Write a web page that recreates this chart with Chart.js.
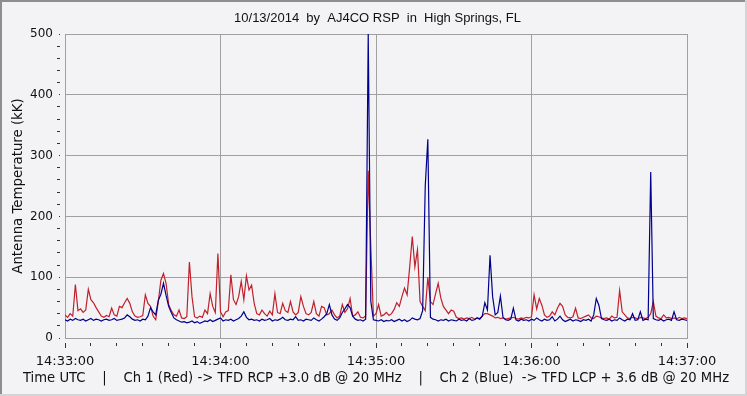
<!DOCTYPE html>
<html>
<head>
<meta charset="utf-8">
<script src="https://cdn.jsdelivr.net/npm/chart.js@4"></script>
<style>
html,body{margin:0;padding:0;background:#f3f3f5;}
#wrap{width:747px;height:396px;}
</style>
</head>
<body>
<div id="wrap"><canvas id="c" width="747" height="396"></canvas></div>
<script>
// Seconds after 14:33:00 UTC (one sample per second)
const seconds = Array.from({length: 241}, (_, i) => i);

const timeTickLabels = ['14:33:00', '14:34:00', '14:35:00', '14:36:00', '14:37:00'];
const tempTickLabels = ['0', '100', '200', '300', '400', '500'];
const xAxisCaption = 'Time UTC    |    Ch 1 (Red) -> TFD RCP +3.0 dB @ 20 MHz    |    Ch 2 (Blue)  -> TFD LCP + 3.6 dB @ 20 MHz';

// Ch 1 (Red) RCP, antenna temperature in kK
const ch1Red = [
38,34,40,36,88,45,48,42,46,80, 63,58,50,43,36,34,37,35,49,38,
36,52,50,58,65,57,43,36,34,35, 37,71,57,52,36,30,60,95,106,90,
55,45,38,36,46,33,32,35,125,68, 35,33,36,34,46,40,73,52,42,139,
43,35,43,45,104,63,55,68,93,63, 102,79,87,57,40,38,46,40,36,44,
38,73,42,40,57,45,42,60,43,38, 42,68,52,40,38,42,60,40,36,52,
50,38,40,46,38,33,36,55,42,48, 65,36,38,43,34,33,36,275,150,36,
40,55,36,38,42,37,40,47,58,52, 68,82,71,117,167,117,145,60,52,45,
100,60,55,73,90,66,52,46,40,46, 44,34,32,33,31,33,32,34,31,33,
32,36,40,40,38,36,33,34,32,33, 31,32,33,34,32,31,33,32,34,33,
35,71,48,65,54,38,34,36,43,38, 49,57,52,38,34,33,35,49,33,32,
34,36,38,33,32,36,35,33,32,33, 31,36,33,34,78,43,38,33,32,34,
33,31,34,33,32,34,40,60,36,33, 32,38,33,34,32,33,31,34,32,33,
32
];

// Ch 2 (Blue) LCP, antenna temperature in kK
const ch2Blue = [
30,28,31,29,32,30,29,31,28,30, 32,29,31,30,28,30,31,29,30,32,
29,30,31,33,38,35,31,29,30,28, 31,30,36,50,43,38,62,72,90,70,
52,42,33,30,28,26,27,25,26,28, 25,27,24,26,28,27,30,27,29,31,
33,28,30,29,31,28,30,32,36,43, 34,30,31,29,30,28,31,29,30,32,
28,30,29,31,34,30,29,31,30,35, 29,30,28,31,30,29,33,30,28,31,
35,40,55,38,31,29,33,42,48,55, 50,36,31,29,30,28,31,500,60,30,
29,28,30,27,29,28,30,27,29,31, 28,30,27,29,33,31,30,32,45,250,
327,34,31,30,28,30,29,31,28,30, 29,28,31,29,30,28,32,29,30,33,
31,36,58,46,136,68,38,42,69,34, 30,29,31,49,30,28,31,29,30,28,
31,29,33,30,28,31,29,30,35,28, 31,36,30,27,29,31,28,30,29,27,
30,29,31,28,38,65,54,32,30,29, 31,28,30,29,33,30,28,31,30,40,
29,30,43,29,31,30,273,32,30,29, 31,28,30,31,29,43,30,29,31,30,
29
];

const GRID = '#a0a0a0';
const TICK = '#333333';

const framePlugin = {
  id: 'frame',
  beforeDraw(chart) {
    const c = chart.ctx;
    c.save();
    c.fillStyle = '#f3f3f5';
    c.fillRect(0, 0, chart.width, chart.height);
    c.fillStyle = '#8e8e8e';
    c.fillRect(0, 0, chart.width, 2);
    c.fillRect(0, 0, 2, chart.height);
    c.fillStyle = '#d4d4d6';
    c.fillRect(chart.width - 2, 0, 2, chart.height);
    c.fillRect(0, chart.height - 2, chart.width, 2);
    c.restore();
  },
  afterDraw(chart) {
    const c = chart.ctx;
    const area = chart.chartArea;
    c.save();
    c.fillStyle = '#111';
    c.font = '13.2px "DejaVu Sans"';
    c.textAlign = 'center';
    c.textBaseline = 'middle';
    c.fillText(xAxisCaption, (area.left + area.right) / 2, chart.scales.x.bottom - 17);
    c.restore();
  }
};

new Chart(document.getElementById('c'), {
  type: 'line',
  data: {
    datasets: [
      {
        label: 'Ch 2 (Blue)',
        data: seconds.map((s, i) => ({x: s, y: ch2Blue[i]})),
        borderColor: '#00008c',
        borderWidth: 1.2,
        pointRadius: 0,
        tension: 0
      },
      {
        label: 'Ch 1 (Red)',
        data: seconds.map((s, i) => ({x: s, y: ch1Red[i]})),
        borderColor: '#c0202c',
        borderWidth: 1.2,
        pointRadius: 0,
        tension: 0
      }
    ]
  },
  options: {
    responsive: false,
    animation: false,
    devicePixelRatio: 1,
    layout: {padding: {left: 8, right: 0, top: 0, bottom: 0}},
    plugins: {
      legend: {display: false},
      tooltip: {enabled: false},
      title: {
        display: true,
        text: '10/13/2014  by  AJ4CO RSP  in  High Springs, FL',
        color: '#111',
        font: {family: 'Liberation Sans', size: 13, weight: 'normal'},
        padding: {top: 10.2, bottom: 8.2}
      }
    },
    scales: {
      x: {
        type: 'linear',
        min: 0,
        max: 240,
        afterFit(scale) { scale.height = 58; },
        ticks: {
          stepSize: 10,
          autoSkip: false,
          maxRotation: 0,
          padding: 6.2,
          color: '#111',
          font: {family: 'DejaVu Sans', size: 13},
          callback: (v) => (v % 60 === 0 ? timeTickLabels[v / 60] : '')
        },
        grid: {
          color: (ctx) => (ctx.tick && ctx.tick.value % 60 === 0 ? GRID : 'rgba(0,0,0,0)'),
          lineWidth: 1,
          tickLength: 10,
          tickColor: TICK,
          tickWidth: 1,
          tickBorderDash: (ctx) => (ctx.tick && ctx.tick.value % 60 === 0 ? [6, 4] : [3, 4]),
          tickBorderDashOffset: (ctx) => (ctx.tick && ctx.tick.value % 60 === 0 ? 6 : 3)
        },
        border: {color: GRID, width: 1},
        title: {display: false}
      },
      y: {
        min: 0,
        max: 500,
        afterFit(scale) { scale.width = 57; },
        ticks: {
          stepSize: 20,
          autoSkip: false,
          padding: 4,
          color: '#111',
          font: {family: 'DejaVu Sans', size: 12},
          callback: (v) => (v % 100 === 0 ? tempTickLabels[v / 100] : '')
        },
        grid: {
          color: (ctx) => (ctx.tick && ctx.tick.value % 100 === 0 ? GRID : 'rgba(0,0,0,0)'),
          lineWidth: 1,
          tickLength: 8,
          tickColor: TICK,
          tickWidth: 1,
          tickBorderDash: (ctx) => (ctx.tick && ctx.tick.value % 100 === 0 ? [1, 7] : [3, 5]),
          tickBorderDashOffset: (ctx) => (ctx.tick && ctx.tick.value % 100 === 0 ? 6 : 0)
        },
        border: {color: GRID, width: 1},
        title: {
          display: true,
          text: 'Antenna Temperature (kK)',
          color: '#111',
          font: {family: 'DejaVu Sans', size: 13.3},
          padding: {top: 3, bottom: 0}
        }
      },
      yRight: {
        position: 'right',
        display: true,
        min: 0,
        max: 500,
        afterFit(scale) { scale.width = 60; },
        ticks: {display: false},
        grid: {display: false, drawOnChartArea: false, drawTicks: false},
        border: {display: false},
        title: {display: false}
      }
    }
  },
  plugins: [framePlugin]
});
</script>
</body>
</html>
